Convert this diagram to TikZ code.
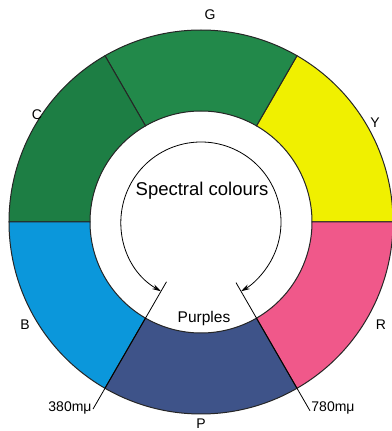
\documentclass[tikz,border=0pt]{standalone}
\usepackage{fontspec}
\setmainfont{Liberation Sans}
\usetikzlibrary{arrows.meta}
\definecolor{colY}{HTML}{F0F000}
\definecolor{colG}{HTML}{22894A}
\definecolor{colC}{HTML}{1D7E44}
\definecolor{colB}{HTML}{0B97DB}
\definecolor{colP}{HTML}{3E5389}
\definecolor{colR}{HTML}{F0588A}
\begin{document}
\begin{tikzpicture}[x=1pt,y=1pt,
  sector/.style={draw=black!85, line width=1pt},
  letter/.style={font=\fontsize{14}{14}\selectfont},
  wave/.style={font=\fontsize{14}{14}\selectfont},
  tickline/.style={line width=0.8pt},
  every node/.style={inner sep=1pt}]
  \useasboundingbox (0,0) rectangle (391,431);
  \coordinate (O) at (201,209);

  % colour ring, six sectors of 60 degrees
  \foreach \a/\c in {0/colY,60/colG,120/colC,180/colB,240/colP,300/colR}
    \filldraw[sector, fill=\c, shift={(O)}] (\a:111) -- (\a:192)
      arc[start angle=\a, end angle=\a+60, radius=192] -- (\a+60:111)
      arc[start angle=\a+60, end angle=\a, radius=111] -- cycle;

  \node[letter] (G) at (210,416) {G};
  \node[letter] (C) at (37,316) {C};
  \node[letter] (Y) at (375,308) {Y};
  \node[letter] (B) at (25,106) {B};
  \node[letter] (R) at (381,106) {R};
  \node[letter] (P) at (201,7) {P};

  % limits of the spectrum
  \coordinate (vIn) at ([shift={(240:69)}]O);
  \coordinate (vOut) at ([shift={(240:216)}]O);
  \coordinate (rIn) at ([shift={(300:70)}]O);
  \coordinate (rOut) at ([shift={(300:218)}]O);
  \draw[tickline] (vIn) -- (vOut);
  \draw[tickline] (rIn) -- (rOut);
  \node[wave] (w380) at (70,23) {380mμ};
  \node[wave] (w780) at (333,23) {780mμ};

  \coordinate (sL) at ([shift={(240:80)}]O);
  \draw[line width=0.8pt, {Stealth[length=9pt,width=5pt]}-{Stealth[length=9pt,width=5pt]}]
    (sL) arc[start angle=240, end angle=-60, radius=80];
  \node[font=\fontsize{18.5}{18.5}\selectfont] (spec) at (202,240) {Spectral colours};
  \node[font=\fontsize{15.5}{15.5}\selectfont] (purp) at (204,113) {Purples};
\end{tikzpicture}
\end{document}
